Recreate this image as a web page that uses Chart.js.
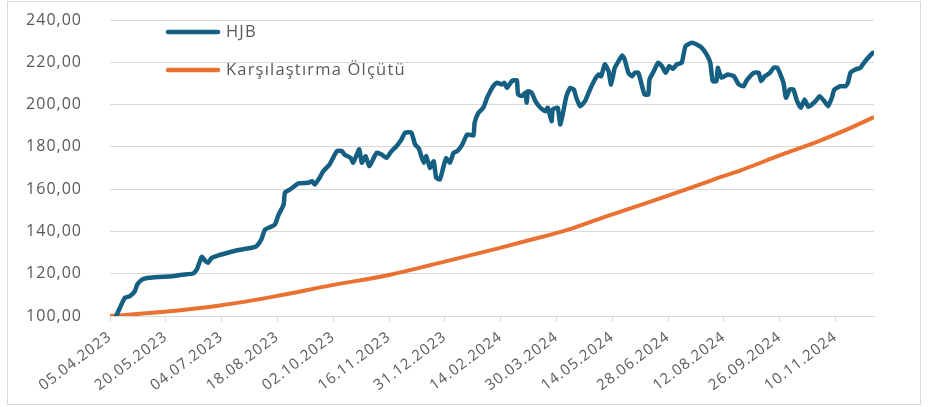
<!DOCTYPE html>
<html>
<head>
<meta charset="utf-8">
<script src="https://cdn.jsdelivr.net/npm/chart.js@4.4.1/dist/chart.umd.min.js"></script>
<style>
html,body{margin:0;padding:0;background:#ffffff;overflow:hidden;}
#wrap{position:absolute;left:0;top:0;width:929px;height:407px;}
#frame{position:absolute;left:7px;top:1px;width:912px;height:402px;border:1px solid #d9d9d9;pointer-events:none;}
</style>
</head>
<body>
<div id="wrap"><canvas id="c" width="929" height="407"></canvas></div>
<div id="frame"></div>
<script>
// ---- data ----
const startDate = '05.04.2023';
const seriesNames = ['HJB', 'Karşılaştırma Ölçütü'];
const tickLabels = ['05.04.2023','20.05.2023','04.07.2023','18.08.2023','02.10.2023','16.11.2023','31.12.2023',
  '14.02.2024','30.03.2024','14.05.2024','28.06.2024','12.08.2024','26.09.2024','10.11.2024'];
const endDate = '11.12.2024';
const yMin = 100, yMax = 240, yStep = 20;

// HJB: days since 05.04.2023 and index values
const hjbDays = [5,8,12,16,20,22,26,31,39,50,58,67,70,74,77,79,82,87,95,103,114,118,122,125,129,133,136,140,141,145,
  152,160,163,165,169,172,177,183,187,189,194,196,199,201,203,206,209,212,215,219,223,227,231,235,238,243,246,249,251,253,
  255,258,261,263,266,269,271,274,277,280,284,288,293,294,297,301,304,306,309,312,316,318,320,324,328,329,332,335,336,337,
  340,343,347,351,353,356,357,361,363,365,368,371,374,376,379,383,387,391,394,396,399,402,404,407,410,413,415,418,421,423,
  426,429,431,434,435,438,442,445,448,451,454,457,461,464,469,473,477,481,484,486,489,490,493,498,503,507,511,513,519,523,
  525,528,532,535,538,540,543,545,548,551,554,557,560,563,566,570,572,576,579,582,584,589,593,595,597,601,605,607,610,615];
const hjbValues = [100.0,103.9,108.6,109.4,111.7,114.9,117.3,118.1,118.5,118.8,119.5,120.1,122.0,128.0,125.9,125.2,127.5,128.6,129.9,131.1,132.3,133.0,136.2,140.9,142.0,143.3,148.0,152.7,158.3,159.8,
  162.7,163.0,163.8,162.2,165.4,168.5,171.7,178.0,178.0,176.4,174.8,172.5,176.4,178.8,172.5,175.6,170.9,174.0,177.2,176.4,174.8,178.0,180.3,183.5,186.7,186.7,181.1,179.2,175.6,172.5,
  175.6,170.1,173.2,165.4,164.6,170.9,174.8,172.5,177.2,178.0,181.1,185.9,185.4,191.4,196.1,198.5,203.2,205.6,208.7,210.3,209.5,210.3,207.9,211.1,211.5,204.8,204.0,205.6,200.9,206.3,
  205.6,201.6,198.5,196.9,198.5,192.1,197.7,198.5,190.6,195.3,204.0,207.9,207.1,203.2,199.2,201.6,207.1,211.9,214.2,213.4,219.0,215.8,209.5,217.4,220.5,223.2,221.3,215.0,213.4,215.0,
  215.0,208.7,204.8,204.8,211.9,215.3,219.8,218.2,215.0,218.2,216.9,219.0,219.8,227.6,229.2,228.4,226.9,223.7,219.8,211.1,211.1,217.4,212.7,214.2,213.4,209.5,208.7,211.1,215.0,215.0,
  211.1,213.4,215.0,217.4,217.4,215.0,210.3,203.2,207.1,207.1,201.6,198.5,202.4,199.0,200.0,202.4,204.0,201.6,199.2,203.2,207.1,208.7,208.7,210.3,215.0,216.6,217.4,219.0,221.3,224.5];

// Karşılaştırma Ölçütü: days since 05.04.2023 and index values
const benchDays = [0,44,90,134,179,224,269,313,337,368,399,437,464,485,509,542,568,593,615];
const benchValues = [100.0,102.0,105.1,109.4,114.6,119.3,125.6,132.0,135.7,140.6,146.9,154.3,159.8,164.2,169.0,176.4,181.9,187.9,193.8];

// ---- helpers ----
function toUTC(s){ const p = s.split('.').map(Number); return Date.UTC(p[2], p[1]-1, p[0]); }
function dayOf(s){ return Math.round((toUTC(s) - toUTC(startDate)) / 864e5); }
const pts = (xs, ys) => xs.map((x, i) => ({x: x, y: ys[i]}));

const colors = ['#156082', '#E97132'];
const txt = '#595959';
const grid = '#d9d9d9';
const FONT = "'Open Sans', 'Noto Sans', sans-serif";

const spacingPlugin = {
  id: 'spacing',
  beforeUpdate(chart){ chart.ctx.letterSpacing = '1px'; },
  beforeDraw(chart){ chart.ctx.letterSpacing = '1px'; }
};

const legendPlugin = {
  id: 'insideLegend',
  afterDraw(chart){
    const ctx = chart.ctx;
    const rows = [32, 70];
    ctx.save();
    ctx.letterSpacing = '1.2px';
    chart.data.datasets.forEach((ds, i) => {
      const y = rows[i];
      ctx.strokeStyle = ds.borderColor;
      ctx.lineWidth = 4.5;
      ctx.lineCap = 'round';
      ctx.beginPath(); ctx.moveTo(168, y); ctx.lineTo(218, y); ctx.stroke();
      ctx.fillStyle = txt;
      ctx.font = '16.5px ' + FONT;
      ctx.textBaseline = 'middle';
      ctx.textAlign = 'left';
      ctx.fillText(ds.label, 226, y);
    });
    ctx.restore();
  }
};

function zeroPad(s){ s.paddingTop = 0; s.paddingBottom = 0; s.paddingLeft = 0; s.paddingRight = 0; }

new Chart(document.getElementById('c'), {
  type: 'line',
  data: {
    datasets: [
      { label: seriesNames[0], data: pts(hjbDays, hjbValues), borderColor: colors[0], borderWidth: 4.5,
        pointRadius: 0, tension: 0.15, borderJoinStyle: 'round', borderCapStyle: 'round', fill: false },
      { label: seriesNames[1], data: pts(benchDays, benchValues), borderColor: colors[1], borderWidth: 4,
        pointRadius: 0, cubicInterpolationMode: 'monotone', borderCapStyle: 'round', fill: false }
    ]
  },
  options: {
    responsive: false,
    animation: false,
    layout: { padding: { left: 0, right: 55, top: 20, bottom: 0 } },
    plugins: { legend: { display: false }, tooltip: { enabled: false } },
    scales: {
      x: {
        type: 'linear',
        min: 0,
        max: dayOf(endDate),
        afterBuildTicks(s){ s.ticks = tickLabels.map(l => ({ value: dayOf(l) })); },
        afterFit(s){ s.height = 91; zeroPad(s); },
        ticks: {
          autoSkip: false, maxRotation: 37, minRotation: 37, padding: 6, color: txt,
          font: { family: FONT, size: 15 },
          callback: (v, i) => tickLabels[i]
        },
        grid: { drawOnChartArea: false, drawTicks: true, tickLength: 6, color: grid },
        border: { display: true, color: grid, width: 1 }
      },
      y: {
        min: yMin, max: yMax,
        afterFit(s){ s.width = 110; zeroPad(s); },
        ticks: {
          stepSize: yStep, padding: 28, color: txt,
          font: { family: FONT, size: 16 },
          callback: v => v.toFixed(2).replace('.', ',')
        },
        grid: { color: grid, drawTicks: false, lineWidth: 1 },
        border: { display: false }
      }
    }
  },
  plugins: [spacingPlugin, legendPlugin]
});
</script>
</body>
</html>
